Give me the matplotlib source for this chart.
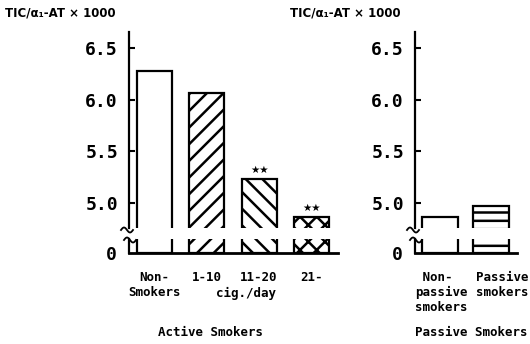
import numpy as np
import matplotlib
matplotlib.use('Agg')
import matplotlib.pyplot as plt
from matplotlib.lines import Line2D
from matplotlib.transforms import ScaledTranslation

# Data
active_labels = ['Non-\nSmokers', '1-10', '11-20', '21-']
active_values = [6.28, 6.065, 5.23, 4.86]
active_hatch = ['', '//', '\\\\', 'xx']
active_stars = ['', '', '★★', '★★']

passive_labels = [' Non-\npassive\nsmokers', 'Passive\nsmokers']
passive_values = [4.86, 4.97]
passive_hatch = ['', '--']

yticks = [5.0, 5.5, 6.0, 6.5]
ylabel = 'TIC/α₁-AT × 1000'

plt.rcParams['hatch.linewidth'] = 1.8
plt.rcParams['font.family'] = 'DejaVu Sans Mono'
plt.rcParams['font.weight'] = 'bold'

W, H = 530, 344
fig = plt.figure(figsize=(W / 100, H / 100), dpi=100)


def px(x0, y_top, x1, y_bot):
    return [x0 / W, 1 - y_bot / H, (x1 - x0) / W, (y_bot - y_top) / H]


def squiggle(xc, yc):
    t = np.linspace(0, 1, 30)
    xs = (xc - 6 + 12 * t) / W
    ys = 1 - (yc - 2.5 * np.sin(2 * np.pi * t)) / H
    fig.add_artist(Line2D(xs, ys, color='black', lw=1.3, transform=fig.transFigure))


def panel(x0, x1, labels, values, hatches, xlim, width, stars=None):
    top = fig.add_axes(px(x0, 32, x1, 228))
    bot = fig.add_axes(px(x0, 239, x1, 253))
    x = np.arange(len(values))
    for ax in (top, bot):
        ax.bar(x, values, width=width, color='white', edgecolor='black',
               linewidth=1.6, hatch=hatches)
        ax.set_xlim(*xlim)
        ax.spines[['top', 'right']].set_visible(False)
        ax.spines['left'].set_linewidth(1.6)
    top.set_ylim(4.758, 6.655)
    bot.set_ylim(0, 0.1355)
    top.spines['bottom'].set_visible(False)
    bot.spines['bottom'].set_linewidth(2)
    top.set_xticks([])
    top.set_yticks(yticks, [f'{v:.1f}' for v in yticks])
    top.tick_params(axis='y', direction='in', length=4, width=1.5, pad=8, labelsize=13)
    bot.set_yticks([0], ['0'])
    bot.tick_params(axis='y', length=0, pad=9, labelsize=13)
    bot.set_xticks(x, labels)
    bot.tick_params(axis='x', length=0, pad=13, labelsize=9)
    if stars:
        for xi, v, s in zip(x, values, stars):
            if s:
                top.annotate(s, (xi, v), xytext=(0, 3), textcoords='offset points',
                             ha='center', va='bottom', fontsize=7.5,
                             family='DejaVu Sans')
    squiggle(x0 - 2, 230)
    squiggle(x0 + 1, 240)
    return top, bot


ta, ba = panel(129, 338, active_labels, active_values, active_hatch,
               (-0.49, 3.51), 0.67, active_stars)
ba.annotate('cig./day', (1.75, 0), xycoords=('data', 'axes fraction'),
            xytext=(0, -29), textcoords='offset points',
            ha='center', va='center', fontsize=9)

tp, bp = panel(415, 517, passive_labels, passive_values, passive_hatch,
               (-0.49, 1.51), 0.7)
# labels on the right panel sit left-aligned, a bit off the bar centres
for lab, dx in zip(bp.get_xticklabels(), [-0.25, -0.15]):
    lab.set_ha('left')
    lab.set_multialignment('left')
    lab.set_transform(lab.get_transform() + ScaledTranslation(dx, 0, fig.dpi_scale_trans))

fig.text(5 / W, 1 - 13 / H, ylabel, ha='left', va='center', fontsize=8.5,
         family='DejaVu Sans')
fig.text(290 / W, 1 - 13 / H, ylabel, ha='left', va='center', fontsize=8.5,
         family='DejaVu Sans')
fig.text(211 / W, 1 - 333 / H, 'Active Smokers', ha='center', va='center', fontsize=9)
fig.text(471 / W, 1 - 333 / H, 'Passive Smokers', ha='center', va='center', fontsize=9)

fig.savefig('out.png', dpi=100)
